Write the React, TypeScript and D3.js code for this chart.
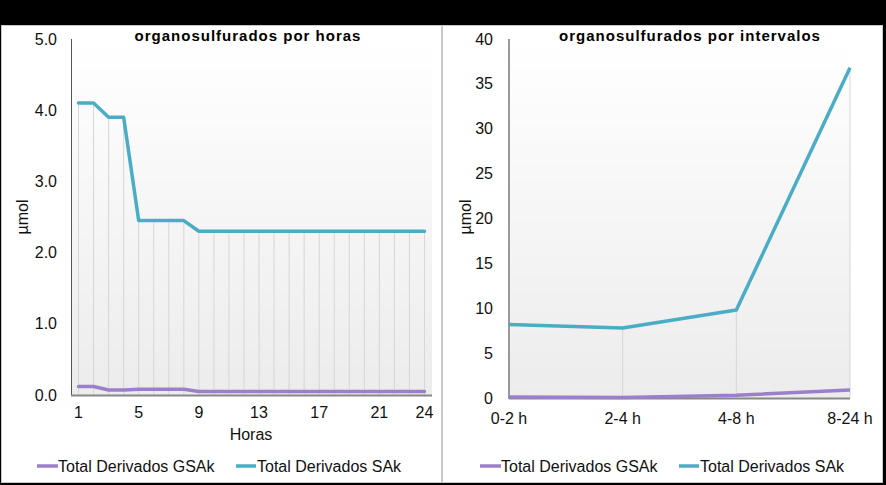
import React from "react";
import * as d3 from "d3";

// ---------- data ----------
const hours: number[] = [1,2,3,4,5,6,7,8,9,10,11,12,13,14,15,16,17,18,19,20,21,22,23,24];
const hoursSAk: number[] = [4.1,4.1,3.9,3.9,2.45,2.45,2.45,2.45,2.3,2.3,2.3,2.3,2.3,2.3,2.3,2.3,2.3,2.3,2.3,2.3,2.3,2.3,2.3,2.3];
const hoursGSAk: number[] = [0.12,0.12,0.07,0.07,0.08,0.08,0.08,0.08,0.05,0.05,0.05,0.05,0.05,0.05,0.05,0.05,0.05,0.05,0.05,0.05,0.05,0.05,0.05,0.05];
const hourTickLabels: number[] = [1,5,9,13,17,21,24];
const hourYTicks: number[] = [0,1,2,3,4,5];

const intervals: string[] = ["0-2 h","2-4 h","4-8 h","8-24 h"];
const intervalSAk: number[] = [8.2,7.8,9.8,36.8];
const intervalGSAk: number[] = [0.1,0.05,0.3,0.9];
const intervalYTicks: number[] = [0,5,10,15,20,25,30,35,40];

const seriesNames: string[] = ["Total Derivados GSAk","Total Derivados SAk"];
const titles: string[] = ["organosulfurados por horas","organosulfurados por intervalos"];

const PURPLE = "#9b7fcb";
const TEAL = "#4bacc6";
const FONT = "'Liberation Sans', Arial, sans-serif";

function Legend({ x0 }: { x0: number }) {
  const y = 466;
  return (
    <g fontFamily={FONT} fontSize={16} fill="#111">
      <line x1={x0} x2={x0 + 21} y1={y} y2={y} stroke={PURPLE} strokeWidth={3.5} />
      <text x={x0 + 21} y={y} dominantBaseline="central">{seriesNames[0]}</text>
      <line x1={x0 + 199} x2={x0 + 219} y1={y} y2={y} stroke={TEAL} strokeWidth={3.5} />
      <text x={x0 + 220} y={y} dominantBaseline="central">{seriesNames[1]}</text>
    </g>
  );
}

function HoursChart() {
  const x = d3.scaleBand<number>().domain(hours).range([71, 432]);
  const cx = (h: number) => (x(h) as number) + x.bandwidth() / 2;
  const y = d3.scaleLinear().domain([0, 5]).range([395, 39]);
  const line = d3.line<number>().x((_, i) => cx(hours[i])).y((d) => y(d));
  return (
    <g>
      <defs>
        <linearGradient id="bg1" x1="0" y1="0" x2="0" y2="1">
          <stop offset="0" stopColor="#ffffff" />
          <stop offset="1" stopColor="#ececec" />
        </linearGradient>
      </defs>
      <rect x={71} y={39} width={361} height={356} fill="url(#bg1)" />
      {hours.map((h, i) => (
        <line key={h} x1={cx(h)} x2={cx(h)} y1={y(Math.max(hoursSAk[i], hoursGSAk[i]))} y2={y(0)} stroke="#d6d6d6" strokeWidth={1} />
      ))}
      <line x1={71.5} x2={71.5} y1={39} y2={396} stroke="#555" strokeWidth={1} />
      <line x1={71} x2={432} y1={395.5} y2={395.5} stroke="#888" strokeWidth={2} />
      <path d={line(hoursGSAk) || ""} fill="none" stroke={PURPLE} strokeWidth={3.5} strokeLinejoin="round" strokeLinecap="round" />
      <path d={line(hoursSAk) || ""} fill="none" stroke={TEAL} strokeWidth={3.5} strokeLinejoin="round" strokeLinecap="round" />
      <g fontFamily={FONT} fontSize={16} fill="#111">
        {hourYTicks.map((t) => (
          <text key={t} x={57} y={y(t)} textAnchor="end" dominantBaseline="central">{d3.format(".1f")(t)}</text>
        ))}
        {hourTickLabels.map((t) => (
          <text key={t} x={cx(t)} y={412} textAnchor="middle" dominantBaseline="central">{t}</text>
        ))}
        <text x={251} y={434} textAnchor="middle" dominantBaseline="central">Horas</text>
        <text transform={`translate(22,217) rotate(-90)`} textAnchor="middle" dominantBaseline="central">µmol</text>
      </g>
      <text x={248} y={35} textAnchor="middle" dominantBaseline="central" fontFamily={FONT} fontSize={15} fontWeight="bold" letterSpacing={1} fill="#000">{titles[0]}</text>
      <Legend x0={37} />
    </g>
  );
}

function IntervalsChart() {
  const x = d3.scalePoint<string>().domain(intervals).range([509, 850]);
  const y = d3.scaleLinear().domain([0, 40]).range([398, 39]);
  const line = d3.line<number>().x((_, i) => x(intervals[i]) as number).y((d) => y(d));
  return (
    <g>
      <defs>
        <linearGradient id="bg2" x1="0" y1="0" x2="0" y2="1">
          <stop offset="0" stopColor="#ffffff" />
          <stop offset="1" stopColor="#ececec" />
        </linearGradient>
      </defs>
      <rect x={509} y={39} width={341} height={359} fill="url(#bg2)" />
      {intervals.map((c, i) => (
        <line key={c} x1={x(c)} x2={x(c)} y1={y(Math.max(intervalSAk[i], intervalGSAk[i]))} y2={y(0)} stroke="#d6d6d6" strokeWidth={1} />
      ))}
      <line x1={509} x2={509} y1={39} y2={399} stroke="#999" strokeWidth={2} />
      <line x1={509} x2={850} y1={398.5} y2={398.5} stroke="#888" strokeWidth={2} />
      <path d={line(intervalGSAk) || ""} fill="none" stroke={PURPLE} strokeWidth={3.5} strokeLinejoin="round" />
      <path d={line(intervalSAk) || ""} fill="none" stroke={TEAL} strokeWidth={3.5} strokeLinejoin="round" />
      <g fontFamily={FONT} fontSize={16} fill="#111">
        {intervalYTicks.map((t) => (
          <text key={t} x={493} y={y(t)} textAnchor="end" dominantBaseline="central">{t}</text>
        ))}
        {intervals.map((c) => (
          <text key={c} x={x(c) as number} y={418} textAnchor="middle" dominantBaseline="central">{c}</text>
        ))}
        <text transform={`translate(465,217) rotate(-90)`} textAnchor="middle" dominantBaseline="central">µmol</text>
      </g>
      <text x={690} y={35} textAnchor="middle" dominantBaseline="central" fontFamily={FONT} fontSize={15} fontWeight="bold" letterSpacing={1} fill="#000">{titles[1]}</text>
      <Legend x0={480} />
    </g>
  );
}

export default function App() {
  return (
    <svg width={886} height={485} style={{ position: "absolute", left: 0, top: 0, display: "block" }}>
      <rect x={0} y={0} width={886} height={485} fill="#000" />
      <rect x={1.5} y={25.5} width={440} height={457} fill="#fff" stroke="#c8c8c8" />
      <rect x={442.5} y={25.5} width={440} height={457} fill="#fff" stroke="#c8c8c8" />
      <HoursChart />
      <IntervalsChart />
    </svg>
  );
}
